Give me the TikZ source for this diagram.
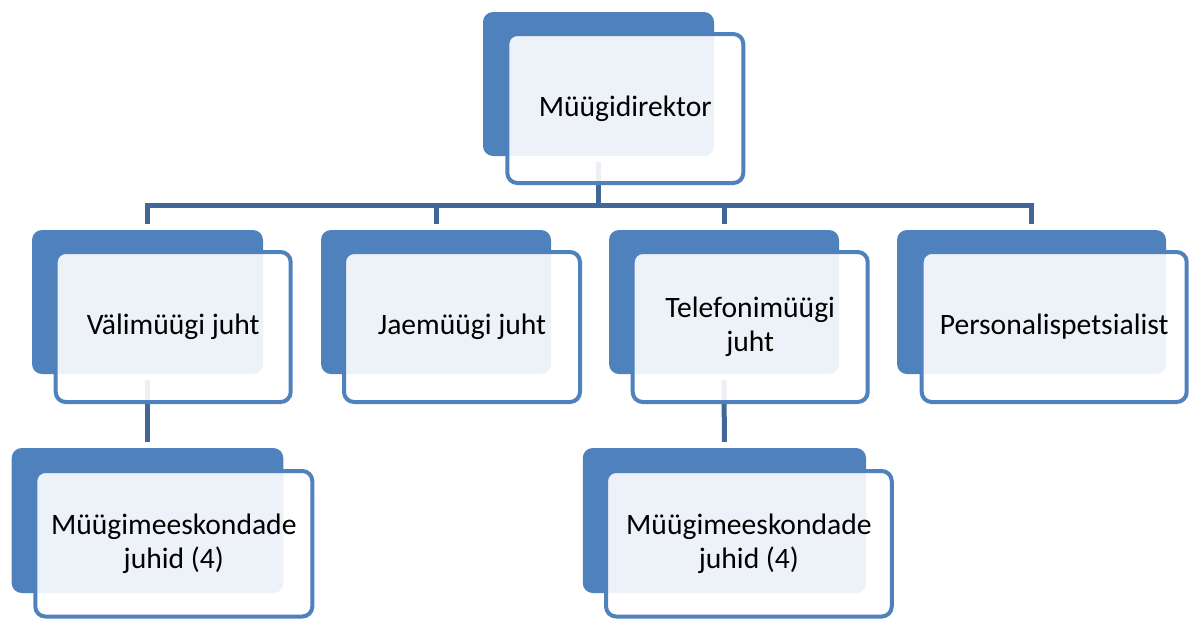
\documentclass[tikz,border=0pt]{standalone}
\usepackage{fontspec}
\setmainfont{Carlito}
\pgfdeclarelayer{bg}
\pgfsetlayers{bg,main}
\definecolor{boxblue}{RGB}{79,129,189}
\definecolor{linkblue}{RGB}{65,103,152}
\begin{document}
\begin{tikzpicture}[x=1pt,y=-1pt,
  backbox/.style={draw=none, fill=boxblue, rounded corners=10pt, inner sep=0pt},
  frontbox/.style={draw=boxblue, line width=4pt, fill=white, fill opacity=0.9, text opacity=1, rounded corners=10pt, inner sep=0pt, align=center, font=\fontsize{29.6}{34.5}\selectfont},
  link/.style={draw=linkblue, line width=5pt}]
\useasboundingbox (0,0) rectangle (1190,619);
% top
\node[backbox, minimum width=231pt, minimum height=144pt] (b0) at (598.5,84) {};
\node[frontbox, minimum width=236pt, minimum height=149pt] (f0) at (625.3,108.5) {Müügidirektor};
% row 2
\node[backbox, minimum width=231pt, minimum height=144pt] (bV) at (147.5,302) {};
\node[frontbox, minimum width=235pt, minimum height=150pt] (fV) at (173.2,327) {Välimüügi juht};
\node[backbox, minimum width=230pt, minimum height=144pt] (bJ) at (436,302) {};
\node[frontbox, minimum width=236pt, minimum height=150pt] (fJ) at (462,327) {Jaemüügi juht};
\node[backbox, minimum width=230pt, minimum height=144pt] (bT) at (724,302) {};
\node[frontbox, minimum width=235pt, minimum height=150pt] (fT) at (750.2,327) {Telefonimüügi\\juht};
\node[backbox, minimum width=269pt, minimum height=144pt] (bP) at (1031.5,302) {};
\node[frontbox, minimum width=265pt, minimum height=150pt] (fP) at (1054.2,327) {Personalispetsialist};
% row 3
\node[backbox, minimum width=271.6pt, minimum height=145pt] (bL) at (147.5,520.5) {};
\node[frontbox, minimum width=277pt, minimum height=145.5pt] (fL) at (173.8,543.75) {Müügimeeskondade\\juhid (4)};
\node[backbox, minimum width=283.3pt, minimum height=145pt] (bR) at (724.4,520.5) {};
\node[frontbox, minimum width=285.7pt, minimum height=145.5pt] (fR) at (748.9,543.75) {Müügimeeskondade\\juhid (4)};
% connectors
\begin{pgfonlayer}{bg}
\coordinate (bus) at (598.5,205.5);
\draw[link] ([yshift=-6pt]b0.south) -- (b0.south |- bus);
\draw[link] ([yshift=6pt]bV.north) |- (bus) -| ([yshift=6pt]bP.north);
\draw[link] ([yshift=6pt]bJ.north) -- (bJ.north |- bus);
\draw[link] ([yshift=6pt]bT.north) -- (bT.north |- bus);
\draw[link] ([yshift=-6pt]bV.south) -- ([yshift=6pt]bL.north);
\draw[link] ([yshift=-6pt]bT.south) -- ([yshift=6pt]bR.north);
\end{pgfonlayer}
\end{tikzpicture}
\end{document}
